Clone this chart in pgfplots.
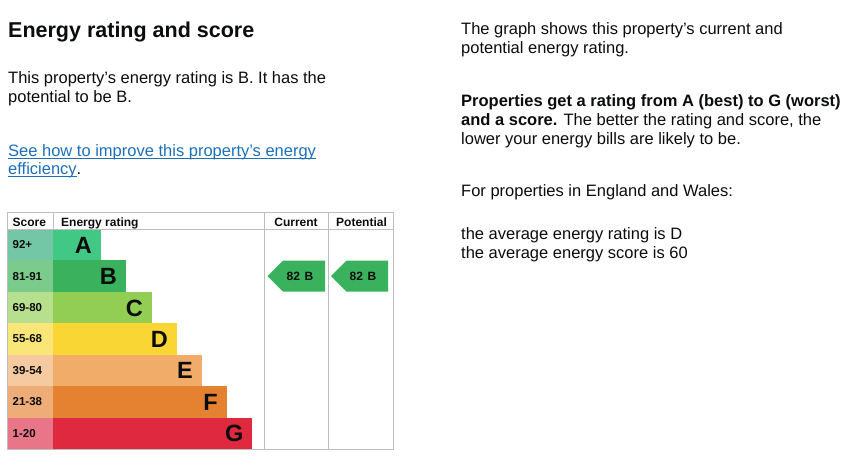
\documentclass[border=0pt]{standalone}
\usepackage{pgfplots}
\pgfplotsset{compat=1.18}
\usepackage{fontspec}
\setmainfont{Liberation Sans}
\definecolor{txt}{RGB}{11,12,12}
\definecolor{lnk}{RGB}{29,112,184}
\definecolor{grd}{RGB}{190,190,190}
\definecolor{cA}{RGB}{64,200,132}\definecolor{sA}{RGB}{116,199,166}
\definecolor{cB}{RGB}{58,177,92}\definecolor{sB}{RGB}{123,203,141}
\definecolor{cC}{RGB}{146,206,84}\definecolor{sC}{RGB}{183,224,142}
\definecolor{cD}{RGB}{250,214,52}\definecolor{sD}{RGB}{250,230,120}
\definecolor{cE}{RGB}{242,172,106}\definecolor{sE}{RGB}{246,202,160}
\definecolor{cF}{RGB}{228,130,50}\definecolor{sF}{RGB}{237,172,120}
\definecolor{cG}{RGB}{223,41,63}\definecolor{sG}{RGB}{232,118,136}
\newcommand\fs[1]{\fontsize{#1}{#1}\selectfont}
\newcommand\ul[1]{\setbox0\hbox{#1}\rlap{\rule[-2.6pt]{\wd0}{1.1pt}}\box0}
\newcommand\sclab[2]{\node[anchor=west, inner sep=0, txt] at (axis cs:12.5,#2) {\fs{11.5}\bfseries #1};}
\begin{document}
\begin{tikzpicture}
\begin{axis}[
  width=851pt, height=469pt, scale only axis,
  xmin=0, xmax=851, ymin=0, ymax=469, y dir=reverse,
  hide axis, clip=false,
]
\path (axis cs:0,0) rectangle (axis cs:851,469);
% score cells
\addplot[fill=sA, draw=none] coordinates {(7,229) (53,229) (53,260.4) (7,260.4)} --cycle;
\addplot[fill=sB, draw=none] coordinates {(7,260.4) (53,260.4) (53,291.9) (7,291.9)} --cycle;
\addplot[fill=sC, draw=none] coordinates {(7,291.9) (53,291.9) (53,323.3) (7,323.3)} --cycle;
\addplot[fill=sD, draw=none] coordinates {(7,323.3) (53,323.3) (53,354.7) (7,354.7)} --cycle;
\addplot[fill=sE, draw=none] coordinates {(7,354.7) (53,354.7) (53,386.1) (7,386.1)} --cycle;
\addplot[fill=sF, draw=none] coordinates {(7,386.1) (53,386.1) (53,417.6) (7,417.6)} --cycle;
\addplot[fill=sG, draw=none] coordinates {(7,417.6) (53,417.6) (53,449) (7,449)} --cycle;
% rating bars
\addplot[fill=cA, draw=none] coordinates {(53,229) (101,229) (101,260.4) (53,260.4)} --cycle;
\addplot[fill=cB, draw=none] coordinates {(53,260.4) (126,260.4) (126,291.9) (53,291.9)} --cycle;
\addplot[fill=cC, draw=none] coordinates {(53,291.9) (152,291.9) (152,323.3) (53,323.3)} --cycle;
\addplot[fill=cD, draw=none] coordinates {(53,323.3) (177,323.3) (177,354.7) (53,354.7)} --cycle;
\addplot[fill=cE, draw=none] coordinates {(53,354.7) (202,354.7) (202,386.1) (53,386.1)} --cycle;
\addplot[fill=cF, draw=none] coordinates {(53,386.1) (227,386.1) (227,417.6) (53,417.6)} --cycle;
\addplot[fill=cG, draw=none] coordinates {(53,417.6) (252,417.6) (252,449) (53,449)} --cycle;
% current / potential arrows (score 82, band B)
\addplot[fill=cB, draw=none] coordinates {(267.5,276.2) (283,260.7) (325,260.7) (325,291.7) (283,291.7)} --cycle;
\addplot[fill=cB, draw=none] coordinates {(331,276.2) (346.5,260.7) (388,260.7) (388,291.7) (346.5,291.7)} --cycle;
% grid
\draw[grd, line width=1pt] (axis cs:7,212.5) -- (axis cs:393,212.5) -- (axis cs:393,449.5) -- (axis cs:7,449.5) -- cycle;
\draw[grd, line width=1pt] (axis cs:7,229) -- (axis cs:393,229);
\draw[grd, line width=1pt] (axis cs:53,212.5) -- (axis cs:53,229);
\draw[grd, line width=1pt] (axis cs:264,212.5) -- (axis cs:264,449.5);
\draw[grd, line width=1pt] (axis cs:328,212.5) -- (axis cs:328,449.5);
% header texts
\node[anchor=base west, inner sep=0, txt] at (axis cs:12.5,226) {\fs{12}\bfseries Score};
\node[anchor=base west, inner sep=0, txt] at (axis cs:61,226) {\fs{12}\bfseries Energy rating};
\node[anchor=base, inner sep=0, txt] at (axis cs:296,226) {\fs{12}\bfseries Current};
\node[anchor=base, inner sep=0, txt] at (axis cs:361.5,226) {\fs{12}\bfseries Potential};
% score labels
\sclab{92+}{244.7}
\sclab{81-91}{276.2}
\sclab{69-80}{307.6}
\sclab{55-68}{339.0}
\sclab{39-54}{370.4}
\sclab{21-38}{401.9}
\sclab{1-20}{433.3}
% band letters
\node[anchor=east, inner sep=0, txt] at (axis cs:92,245.2) {\fs{23.5}\bfseries A};
\node[anchor=east, inner sep=0, txt] at (axis cs:117,276.7) {\fs{23.5}\bfseries B};
\node[anchor=east, inner sep=0, txt] at (axis cs:143,308.1) {\fs{23.5}\bfseries C};
\node[anchor=east, inner sep=0, txt] at (axis cs:168,339.5) {\fs{23.5}\bfseries D};
\node[anchor=east, inner sep=0, txt] at (axis cs:193,370.9) {\fs{23.5}\bfseries E};
\node[anchor=east, inner sep=0, txt] at (axis cs:218,402.4) {\fs{23.5}\bfseries F};
\node[anchor=east, inner sep=0, txt] at (axis cs:243.5,433.8) {\fs{23.5}\bfseries G};
% arrow texts
\node[anchor=west, inner sep=0, txt] at (axis cs:286.5,276.5) {\fs{12}\bfseries 82\hspace{4.5pt}B};
\node[anchor=west, inner sep=0, txt] at (axis cs:349.5,276.5) {\fs{12}\bfseries 82\hspace{4.5pt}B};
% left column text
\node[anchor=base west, inner sep=0, txt] at (axis cs:8,37.5) {\fs{21.5}\bfseries Energy rating and score};
\node[anchor=base west, inner sep=0, txt] at (axis cs:8,83.3) {\fs{16.5}This property’s energy rating is B. It has the};
\node[anchor=base west, inner sep=0, txt] at (axis cs:8,102) {\fs{16.5}potential to be B.};
\node[anchor=base west, inner sep=0, lnk] at (axis cs:8,156.5) {\fs{16.5}\ul{See how to improve this property’s energy}};
\node[anchor=base west, inner sep=0, lnk] at (axis cs:8,174.5) {\fs{16.5}\ul{efficiency}\textcolor{txt}{.}};
% right column text
\node[anchor=base west, inner sep=0, txt] at (axis cs:461,34.5) {\fs{16.5}The graph shows this property’s current and};
\node[anchor=base west, inner sep=0, txt] at (axis cs:461,53.5) {\fs{16.5}potential energy rating.};
\node[anchor=base west, inner sep=0, txt] at (axis cs:461,106.7) {\fs{16.5}\bfseries Properties get a rating from A (best) to G (worst)};
\node[anchor=base west, inner sep=0, txt] at (axis cs:461,125.7) {\fs{16.5}\textbf{and a score.} The better the rating and score, the};
\node[anchor=base west, inner sep=0, txt] at (axis cs:461,144.5) {\fs{16.5}lower your energy bills are likely to be.};
\node[anchor=base west, inner sep=0, txt] at (axis cs:461,196.7) {\fs{16.5}For properties in England and Wales:};
\node[anchor=base west, inner sep=0, txt] at (axis cs:461,239) {\fs{16.5}the average energy rating is D};
\node[anchor=base west, inner sep=0, txt] at (axis cs:461,258.3) {\fs{16.5}the average energy score is 60};
\end{axis}
\end{tikzpicture}
\end{document}
